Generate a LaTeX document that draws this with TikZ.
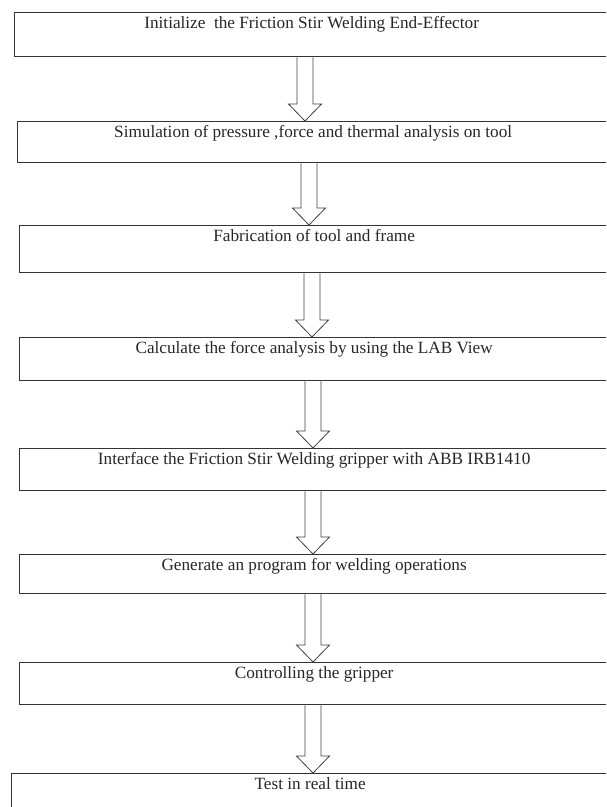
\documentclass[tikz,border=0pt]{standalone}
\usepackage{fontspec}
\setmainfont{Liberation Serif}
\usetikzlibrary{positioning}

\begin{document}
\begin{tikzpicture}[x=1pt,y=-1pt,
  stepbox/.style={draw=black!80, line width=1.3pt, anchor=north west, inner sep=0pt,
    text height=16pt, font=\fontsize{17.2}{20}\selectfont, text=black!85},
  hollow/.style={draw=black!75, line width=0.8pt, fill=white}]
\useasboundingbox (0,0) rectangle (606,807);
\clip (0,0) rectangle (606,807);

% Process steps
\node[stepbox, minimum width=594pt, text depth=28pt] (b1) at (14,12) {Initialize\ \ the Friction Stir Welding End-Effector};
\node[stepbox, minimum width=591pt, text depth=25pt] (b2) at (17,121) {Simulation of pressure ,force and thermal analysis on tool};
\node[stepbox, minimum width=589pt, text depth=31pt] (b3) at (19,225) {Fabrication of tool and frame};
\node[stepbox, minimum width=589pt, text depth=27pt] (b4) at (19,337) {Calculate the force analysis by using the LAB View};
\node[stepbox, minimum width=589pt, text depth=26pt] (b5) at (19,448) {Interface the Friction Stir Welding gripper with ABB IRB1410};
\node[stepbox, minimum width=589pt, text depth=23pt] (b6) at (19,554) {Generate an program for welding operations};
\node[stepbox, minimum width=589pt, text depth=26pt] (b7) at (19,662) {Controlling the gripper};
\node[stepbox, minimum width=597pt, text depth=36pt] (b8) at (11,773) {Test in real time};

% Hollow arrows between steps
\foreach \u/\l/\x in {b1/b2/305, b2/b3/309, b3/b4/312, b4/b5/313, b5/b6/313, b6/b7/313, b7/b8/313}
  \draw[hollow] ({\x-8},0 |- \u.south) -- ([yshift=17pt]{\x-8},0 |- \l.north)
    -- ([yshift=17pt]{\x-16.5},0 |- \l.north) -- (\x,0 |- \l.north)
    -- ([yshift=17pt]{\x+16.5},0 |- \l.north) -- ([yshift=17pt]{\x+8},0 |- \l.north)
    -- ({\x+8},0 |- \u.south);
\end{tikzpicture}
\end{document}
